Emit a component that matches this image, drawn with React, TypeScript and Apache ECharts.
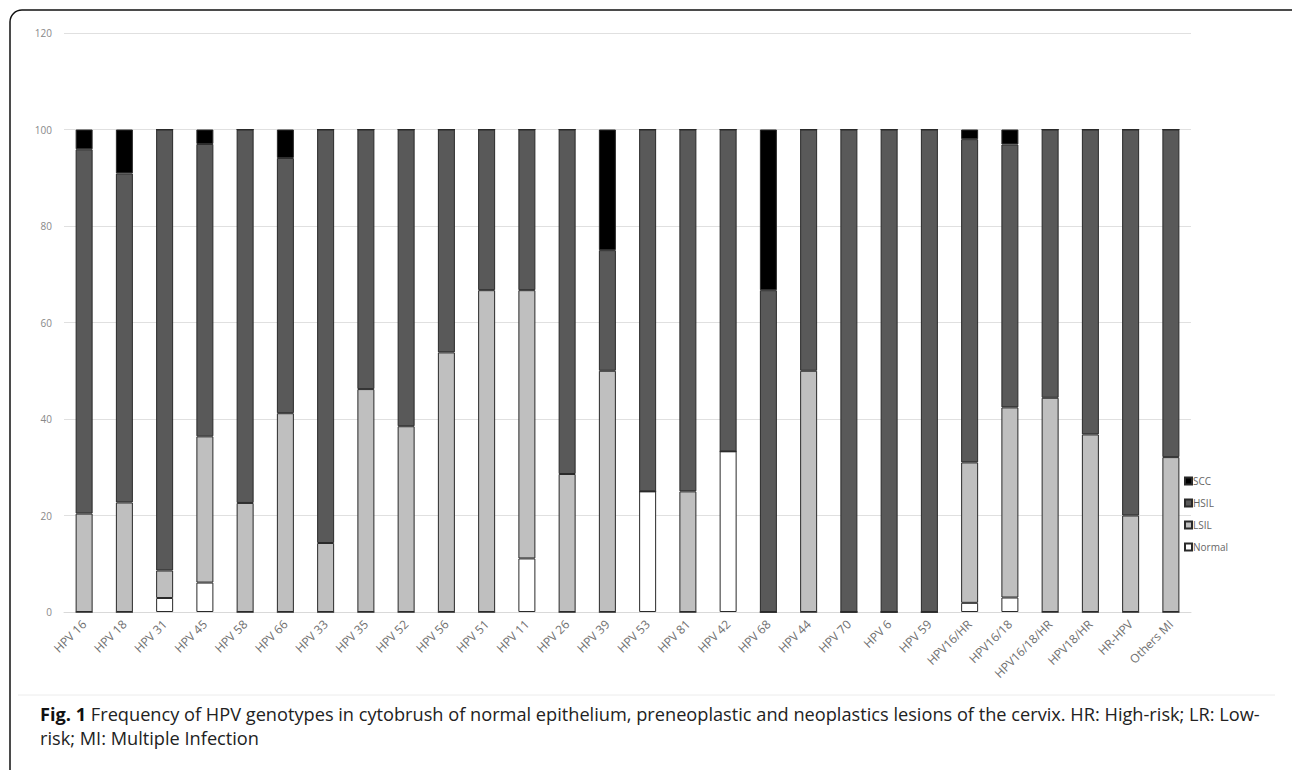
import React, { useEffect, useRef } from "react";
import * as echarts from "echarts";

const categories = [
  "HPV 16", "HPV 18", "HPV 31", "HPV 45", "HPV 58", "HPV 66", "HPV 33", "HPV 35",
  "HPV 52", "HPV 56", "HPV 51", "HPV 11", "HPV 26", "HPV 39", "HPV 53", "HPV 81",
  "HPV 42", "HPV 68", "HPV 44", "HPV 70", "HPV 6", "HPV 59", "HPV16/HR", "HPV16/18",
  "HPV16/18/HR", "HPV18/HR", "HR-HPV", "Others MI",
];

const normal = [0, 0, 2.9, 6.1, 0, 0, 0, 0, 0, 0, 0, 11.1, 0, 0, 25, 0, 33.3, 0, 0, 0, 0, 0, 1.9, 3.0, 0, 0, 0, 0];
const lsil = [20.4, 22.7, 5.7, 30.3, 22.6, 41.2, 14.3, 46.2, 38.5, 53.8, 66.7, 55.6, 28.6, 50, 0, 25, 0, 0, 50, 0, 0, 0, 29.1, 39.4, 44.4, 36.8, 20, 32.1];
const hsil = [75.5, 68.2, 91.4, 60.6, 77.4, 52.9, 85.7, 53.8, 61.5, 46.2, 33.3, 33.3, 71.4, 25, 75, 75, 66.7, 66.7, 50, 100, 100, 100, 67.0, 54.5, 55.6, 63.2, 80, 67.9];
const scc = [4.1, 9.1, 0, 3.0, 0, 5.9, 0, 0, 0, 0, 0, 0, 0, 25, 0, 0, 0, 33.3, 0, 0, 0, 0, 2.0, 3.1, 0, 0, 0, 0];

const yTicks = [0, 20, 40, 60, 80, 100, 120];

const captionLine1 =
  "Frequency of HPV genotypes in cytobrush of normal epithelium, preneoplastic and neoplastics lesions of the cervix. HR: High-risk; LR: Low-";
const captionLine2 = "risk; MI: Multiple Infection";

export default function App() {
  const ref = useRef<HTMLDivElement>(null);
  useEffect(() => {
    if (!ref.current) return;
    const chart = echarts.init(ref.current, undefined, { renderer: "svg" });
    const border = { borderColor: "#2a2a2a", borderWidth: 1 };
    const mk = (name: string, data: number[], color: string) => ({
      name,
      type: "bar",
      stack: "total",
      data,
      barWidth: 17,
      itemStyle: { color, ...border },
      emphasis: { disabled: true },
    });
    const capFont = "'Open Sans', sans-serif";
    chart.setOption({
      animation: false,
      backgroundColor: "#ffffff",
      grid: { left: 64, right: 101, top: 33, bottom: 158, containLabel: false },
      legend: {
        orient: "vertical",
        left: 1179,
        top: 471,
        itemWidth: 7,
        itemHeight: 7,
        itemGap: 12,
        icon: "rect",
        data: ["SCC", "HSIL", "LSIL", "Normal"],
        textStyle: { fontSize: 10, color: "#666", fontFamily: "'Open Sans', sans-serif", padding: [0, 0, 0, -4] },
      },
      xAxis: {
        type: "category",
        data: categories,
        axisLine: { lineStyle: { color: "#d9d9d9" } },
        axisTick: { show: false },
        axisLabel: {
          rotate: 45,
          interval: 0,
          fontSize: 12,
          color: "#6f6f6f",
          margin: 10,
          fontFamily: "'Open Sans', sans-serif",
        },
      },
      yAxis: {
        type: "value",
        min: 0,
        max: 120,
        interval: 20,
        axisLine: { show: false },
        axisTick: { show: false },
        splitLine: { lineStyle: { color: "#e0e0e0", width: 1 } },
        axisLabel: {
          fontSize: 10,
          color: "#888",
          margin: 12,
          fontFamily: "'Open Sans', sans-serif",
          formatter: (v: number) => (yTicks.includes(v) ? String(v) : ""),
        },
      },
      series: [
        mk("Normal", normal, "#ffffff"),
        mk("LSIL", lsil, "#bfbfbf"),
        mk("HSIL", hsil, "#595959"),
        mk("SCC", scc, "#000000"),
      ],
      graphic: [
        {
          type: "rect",
          shape: { x: 10, y: 10, width: 1300, height: 800, r: 12 },
          style: { fill: "none", stroke: "#111", lineWidth: 1.5 },
          silent: true,
        },
        {
          type: "line",
          shape: { x1: 18, y1: 695, x2: 1275, y2: 695 },
          style: { stroke: "#ececec", lineWidth: 1 },
          silent: true,
        },
        {
          type: "text",
          left: 40,
          top: 705,
          style: {
            text: "{b|Fig. 1} " + captionLine1,
            font: "18.2px " + capFont,
            fill: "#222",
            rich: {
              b: { fontWeight: "bold", fontSize: 18.2, fontFamily: capFont, fill: "#111" },
            },
          },
        },
        {
          type: "text",
          left: 40,
          top: 729,
          style: { text: captionLine2, font: "18.2px " + capFont, fill: "#222" },
        },
      ],
    });
    return () => chart.dispose();
  }, []);
  return (
    <div
      ref={ref}
      style={{ position: "fixed", left: 0, top: 0, width: 1292, height: 770, background: "#fff" }}
    />
  );
}
